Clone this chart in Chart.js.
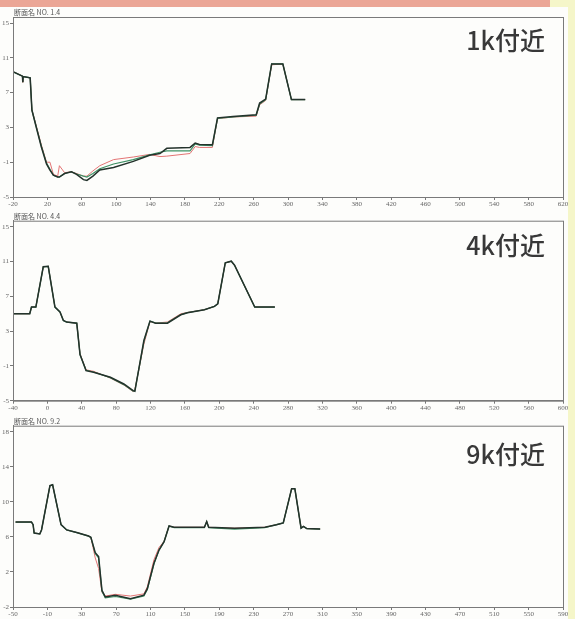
<!DOCTYPE html>
<html lang="ja">
<head>
    <meta charset="UTF-8">
    <title>断面比較</title>
    <script src="https://cdn.jsdelivr.net/npm/chart.js"></script>
    <style>
        body {
            margin: 0;
            background: #fdfdfa;
        }
        #page {
            position: relative;
            width: 575px;
            height: 619px;
            overflow: hidden;
            background: #fdfdfb;
        }
        .band {
            position: absolute;
            left: 0;
            top: 0;
            width: 550px;
            height: 7px;
            background: #eba696;
        }
        .edge {
            position: absolute;
            right: 0;
            top: 0;
            width: 7px;
            height: 619px;
            background: #f5f6c9;
        }
        .corner {
            position: absolute;
            left: 550px;
            top: 0;
            width: 25px;
            height: 7px;
            background: #f5f6c9;
        }
        .panel {
            position: absolute;
            left: 0;
            width: 575px;
        }
    </style>
</head>
<body>
<div id="page">
    <div class="band"></div>
    <div class="corner"></div>
    <div class="edge"></div>
    <div class="panel" style="top:0;height:210px"><canvas id="c1"></canvas></div>
    <div class="panel" style="top:205px;height:205px"><canvas id="c2"></canvas></div>
    <div class="panel" style="top:410px;height:209px"><canvas id="c3"></canvas></div>
</div>

<script>
    // ---- panel 1 : NO. 1.4 ----
    const p1Title = '断面名 NO. 1.4';
    const p1Label = '1k付近';
    const p1XTicks = [-20, 20, 60, 100, 140, 180, 220, 260, 300, 340, 380, 420, 460, 500, 540, 580, 620];
    const p1YTicks = [-5, -1, 3, 7, 11, 15];
    const p1X     = [-20, -9, -8.6, -8.2, 0, 2, 7, 13, 19, 23, 27, 32, 34, 40, 48, 54, 62, 66, 73, 81, 97, 120, 139, 151, 159, 186, 192, 197, 212, 218, 236, 263, 267, 274, 281, 294, 304, 320];
    const p1Black = [9.4, 8.9, 8.2, 8.85, 8.7, 5.0, 3.05, 0.75, -1.2, -1.9, -2.5, -2.7, -2.7, -2.3, -2.1, -2.4, -3.0, -3.1, -2.6, -1.9, -1.6, -0.9, -0.2, 0.0, 0.6, 0.7, 1.2, 1.05, 1.0, 4.1, 4.25, 4.45, 5.8, 6.25, 10.3, 10.3, 6.2, 6.2];
    const p1Red   = [9.4, 8.9, 8.2, 8.85, 8.7, 5.0, 3.2, 1.0, -1.0, -1.0, -2.4, -2.6, -1.4, -2.2, -2.1, -2.3, -2.6, -2.6, -2.0, -1.4, -0.7, -0.4, -0.1, -0.35, -0.3, 0.0, 0.8, 0.7, 0.7, 4.0, 4.2, 4.3, 5.6, 6.1, 10.2, 10.3, 6.2, 6.2];
    const p1Green = [9.4, 8.9, 8.2, 8.85, 8.7, 5.0, 3.1, 0.85, -1.1, -1.8, -2.5, -2.7, -2.7, -2.3, -2.1, -2.35, -2.6, -2.7, -2.3, -1.75, -1.2, -0.7, -0.15, 0.15, 0.3, 0.3, 1.1, 0.95, 0.9, 4.05, 4.2, 4.4, 5.7, 6.2, 10.3, 10.3, 6.2, 6.2];

    // ---- panel 2 : NO. 4.4 ----
    const p2Title = '断面名 NO. 4.4';
    const p2Label = '4k付近';
    const p2XTicks = [-40, 0, 40, 80, 120, 160, 200, 240, 280, 320, 360, 400, 440, 480, 520, 560, 600];
    const p2YTicks = [-5, -1, 3, 7, 11, 15];
    const p2X     = [-40, -20.5, -18.5, -13.4, -4.8, 1, 8.8, 14.7, 18.6, 22.5, 34.2, 38, 45, 53.8, 73.3, 89, 99.8, 101.8, 112.3, 119.4, 126, 139.7, 155.3, 163, 182.7, 194.4, 198.3, 207, 214, 217.8, 241.3, 264.7];
    const p2Black = [5.0, 5.0, 5.77, 5.77, 10.4, 10.45, 5.77, 5.2, 4.23, 4.04, 3.92, 0.3, -1.54, -1.73, -2.3, -3.08, -3.85, -3.92, 1.92, 4.15, 3.92, 3.92, 4.88, 5.12, 5.46, 5.85, 6.15, 10.85, 11.04, 10.58, 5.77, 5.77];
    const p2Red   = [5.0, 5.0, 5.77, 5.77, 10.4, 10.45, 5.77, 5.2, 4.23, 4.04, 3.92, 0.4, -1.45, -1.62, -2.4, -3.2, -3.95, -3.7, 1.5, 4.1, 3.92, 4.05, 5.0, 5.15, 5.46, 5.85, 6.15, 10.85, 11.04, 10.58, 5.77, 5.77];
    const p2Green = [5.0, 5.0, 5.77, 5.77, 10.4, 10.45, 5.77, 5.2, 4.23, 4.04, 3.92, 0.3, -1.5, -1.7, -2.35, -3.15, -3.9, -3.85, 1.8, 4.15, 3.92, 3.95, 4.9, 5.12, 5.46, 5.85, 6.15, 10.85, 11.04, 10.58, 5.77, 5.77];

    // ---- panel 3 : NO. 9.2 ----
    const p3Title = '断面名 NO. 9.2';
    const p3Label = '9k付近';
    const p3XTicks = [-50, -10, 30, 70, 110, 150, 190, 230, 270, 310, 350, 390, 430, 470, 510, 550, 590];
    const p3YTicks = [-2, 2, 6, 10, 14, 18];
    const p3X     = [-47, -28.5, -26.6, -25.4, -18.8, -16.8, -7, -3.9, 5.9, 12.5, 24.2, 37.9, 40.6, 45.7, 49.6, 53.5, 57.4, 69.1, 86.7, 102.3, 106.3, 114, 119.9, 125.8, 131.6, 137.5, 172.7, 175.4, 177.7, 207.8, 243, 256.6, 264.5, 274.2, 278, 285.2, 288, 291.8, 307.4];
    const p3Black = [7.7, 7.7, 7.4, 6.45, 6.35, 6.8, 11.85, 11.95, 7.4, 6.8, 6.5, 6.1, 5.95, 4.2, 3.75, -0.1, -0.85, -0.65, -1.05, -0.65, 0.1, 3.0, 4.5, 5.45, 7.25, 7.1, 7.1, 7.75, 7.1, 7.0, 7.1, 7.4, 7.6, 11.5, 11.5, 7.0, 7.2, 6.95, 6.9];
    const p3Red   = [7.7, 7.7, 7.4, 6.45, 6.35, 6.8, 11.85, 11.95, 7.4, 6.8, 6.5, 6.1, 5.95, 3.6, 2.4, -0.3, -0.75, -0.55, -0.75, -0.5, 0.3, 3.4, 4.8, 5.5, 7.25, 7.1, 7.1, 7.75, 7.1, 7.0, 7.1, 7.4, 7.6, 11.5, 11.5, 7.0, 7.2, 6.95, 6.9];
    const p3Green = [7.7, 7.7, 7.4, 6.45, 6.35, 6.8, 11.85, 11.95, 7.4, 6.8, 6.5, 6.1, 5.95, 4.1, 3.6, -0.2, -0.95, -0.8, -1.1, -0.75, 0.0, 2.9, 4.5, 5.45, 7.25, 7.05, 7.05, 7.75, 7.05, 6.9, 7.05, 7.4, 7.6, 11.5, 11.5, 7.0, 7.2, 6.95, 6.9];

    // draws the box, the small section name and the big "付近" label
    const frame = {
        id: 'frame',
        afterDraw(chart) {
            const a = chart.chartArea;
            const o = chart.options.plugins.frame;
            const ctx = chart.ctx;
            ctx.save();
            ctx.strokeStyle = '#7a7a7a';
            ctx.lineWidth = 1;
            ctx.strokeRect(a.left + 0.5, a.top + 0.5, a.right - a.left, a.bottom - a.top);
            ctx.fillStyle = '#555';
            ctx.font = '7px "Noto Sans CJK JP"';
            ctx.textBaseline = 'bottom';
            ctx.fillText(o.title, a.left + 1, a.top - 1);
            ctx.fillStyle = '#383838';
            ctx.font = '500 25px "Noto Sans CJK JP"';
            ctx.textAlign = 'right';
            ctx.textBaseline = 'middle';
            ctx.fillText(o.label, 545, o.labelY);
            ctx.restore();
        }
    };

    function pts(xs, ys) {
        return xs.map((x, i) => ({ x: x, y: ys[i] }));
    }

    function makePanel(id, o) {
        const ctx = document.getElementById(id).getContext('2d');
        return new Chart(ctx, {
            type: 'scatter',
            data: {
                datasets: [
                    { data: pts(o.x, o.black), borderColor: '#24332c', borderWidth: 1.5 },
                    { data: pts(o.x, o.green), borderColor: '#3f9165', borderWidth: 1.2 },
                    { data: pts(o.x, o.red),   borderColor: '#e37474', borderWidth: 1 }
                ].map(d => Object.assign(d, { showLine: true, pointRadius: 0, fill: false, tension: 0 }))
            },
            options: {
                responsive: true,
                maintainAspectRatio: false,
                animation: false,
                layout: { padding: { top: o.padTop, bottom: o.padBottom, left: 0, right: 12 } },
                plugins: {
                    legend: { display: false },
                    tooltip: { enabled: false },
                    frame: { title: o.title, label: o.label, labelY: o.labelY }
                },
                scales: {
                    x: {
                        type: 'linear',
                        min: o.xTicks[0],
                        max: o.xTicks[o.xTicks.length - 1],
                        afterBuildTicks: s => { s.ticks = o.xTicks.map(v => ({ value: v })); },
                        afterFit: s => { s.height = o.xAxisH; },
                        grid: { drawOnChartArea: false, tickLength: 3, color: '#777' },
                        border: { color: '#7a7a7a' },
                        ticks: { color: '#666', font: { size: 7, family: 'Liberation Serif' }, padding: 0, maxRotation: 0, autoSkip: false }
                    },
                    y: {
                        min: o.yTicks[0],
                        max: o.yTicks[o.yTicks.length - 1] + 0.7,
                        afterBuildTicks: s => { s.ticks = o.yTicks.map(v => ({ value: v })); },
                        afterFit: s => { s.width = 13; },
                        grid: { drawOnChartArea: false, tickLength: 3, color: '#777' },
                        border: { color: '#7a7a7a' },
                        ticks: { color: '#666', font: { size: 7, family: 'Liberation Serif' }, padding: 1, autoSkip: false }
                    }
                }
            },
            plugins: [frame]
        });
    }

    makePanel('c1', { x: p1X, black: p1Black, red: p1Red, green: p1Green, xTicks: p1XTicks, yTicks: p1YTicks,
        title: p1Title, label: p1Label, labelY: 40, padTop: 17, padBottom: 3, xAxisH: 10 });
    makePanel('c2', { x: p2X, black: p2Black, red: p2Red, green: p2Green, xTicks: p2XTicks, yTicks: p2YTicks,
        title: p2Title, label: p2Label, labelY: 40, padTop: 15.7, padBottom: 0.3, xAxisH: 9 });
    makePanel('c3', { x: p3X, black: p3Black, red: p3Red, green: p3Green, xTicks: p3XTicks, yTicks: p3YTicks,
        title: p3Title, label: p3Label, labelY: 44, padTop: 15.7, padBottom: 2, xAxisH: 10 });
</script>
</body>
</html>
